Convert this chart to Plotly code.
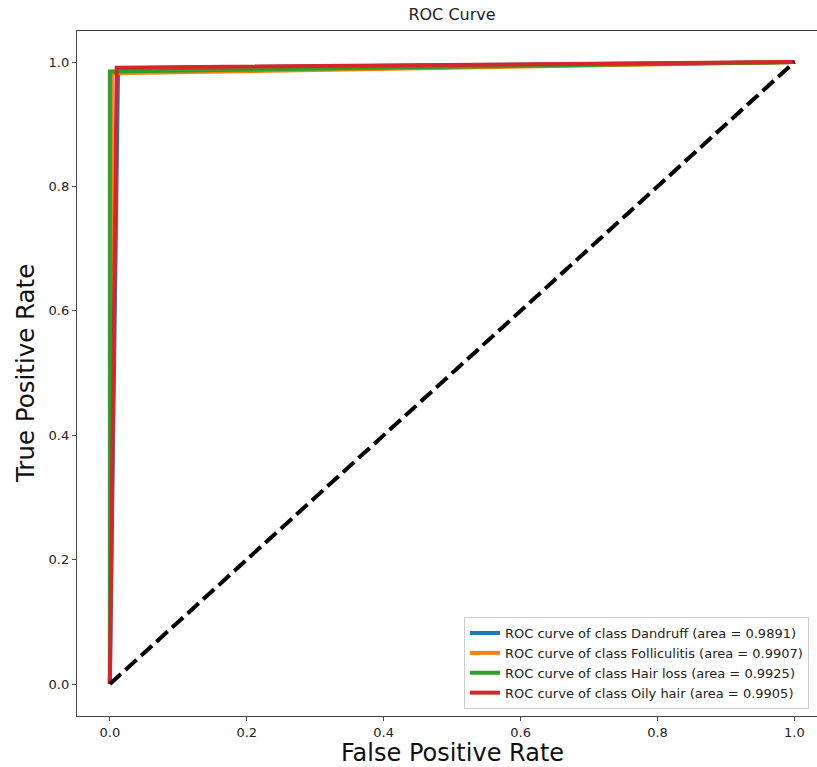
import plotly.graph_objects as go

class_names = ["Dandruff", "Folliculitis", "Hair loss", "Oily hair"]
areas = [0.9891, 0.9907, 0.9925, 0.9905]
fpr_values = [
    [0.0, 0.012, 1.0],
    [0.0, 0.003, 1.0],
    [0.0, 0.0, 1.0],
    [0.0, 0.010, 1.0],
]
tpr_values = [
    [0.0, 0.990, 1.0],
    [0.0, 0.982, 1.0],
    [0.0, 0.985, 1.0],
    [0.0, 0.991, 1.0],
]
chance_x = [0.0, 1.0]
chance_y = [0.0, 1.0]
colors = ["#1f77b4", "#ff7f0e", "#2ca02c", "#d62728"]
tick_vals = [0.0, 0.2, 0.4, 0.6, 0.8, 1.0]
tick_text = ["0.0", "0.2", "0.4", "0.6", "0.8", "1.0"]

FONT = "DejaVu Sans"
W, H = 817, 767
L, R, T, B = 77, 0, 31, 51
PW, PH = W - L - R, H - T - B

fig = go.Figure()
for name, area, fx, ty, c in zip(class_names, areas, fpr_values, tpr_values, colors):
    fig.add_trace(go.Scatter(
        x=fx, y=ty, mode="lines",
        line=dict(color=c, width=4),
        name=f"ROC curve of class {name} (area = {area:.4f})",
    ))
fig.add_trace(go.Scatter(
    x=chance_x, y=chance_y, mode="lines",
    line=dict(color="black", width=4, dash="15px,6px"),
    showlegend=False,
))

axis_common = dict(
    showgrid=False, zeroline=False, showline=True, linecolor="#444", linewidth=1.3,
    ticks="outside", ticklen=4, tickwidth=1.2, tickcolor="#444",
    tickfont=dict(family=FONT, size=13, color="#222"),
    tickvals=tick_vals, ticktext=tick_text, automargin=False,
)
fig.update_layout(
    width=W, height=H,
    margin=dict(l=L, r=R, t=T, b=B, autoexpand=False),
    plot_bgcolor="white", paper_bgcolor="white",
    font=dict(family=FONT, color="#222"),
    title=dict(text="ROC Curve", x=452/W, xref="container", xanchor="center",
               y=1 - 14/H, yref="container", yanchor="middle", pad=dict(t=0, b=0),
               font=dict(family=FONT, size=16, color="#222")),
    xaxis=dict(range=[-0.048, 1.033], mirror=True, **axis_common),
    yaxis=dict(range=[-0.0514, 1.05], **axis_common),
    legend=dict(x=(464 - L) / PW, xanchor="left", y=(716 - 709) / PH, yanchor="bottom",
                bgcolor="rgba(255,255,255,0.85)", bordercolor="#cccccc", borderwidth=1,
                font=dict(family=FONT, size=13, color="#222"), itemwidth=30,
                tracegroupgap=0),
    annotations=[
        dict(text="False Positive Rate", xref="paper", yref="paper",
             x=(452 - L) / PW, y=(716 - 753) / PH, xanchor="center", yanchor="middle",
             showarrow=False, font=dict(family=FONT, size=24, color="#111")),
        dict(text="True Positive Rate", xref="paper", yref="paper",
             x=(25 - L) / PW, y=(716 - 374) / PH, xanchor="center", yanchor="middle",
             textangle=-90, showarrow=False, font=dict(family=FONT, size=24.5, color="#111")),
    ],
)
fig.write_html(
    "out.html",
    config={"displayModeBar": False},
    post_script="document.body.style.margin='0';document.body.style.padding='0';"
                "document.body.style.overflow='hidden';",
)
